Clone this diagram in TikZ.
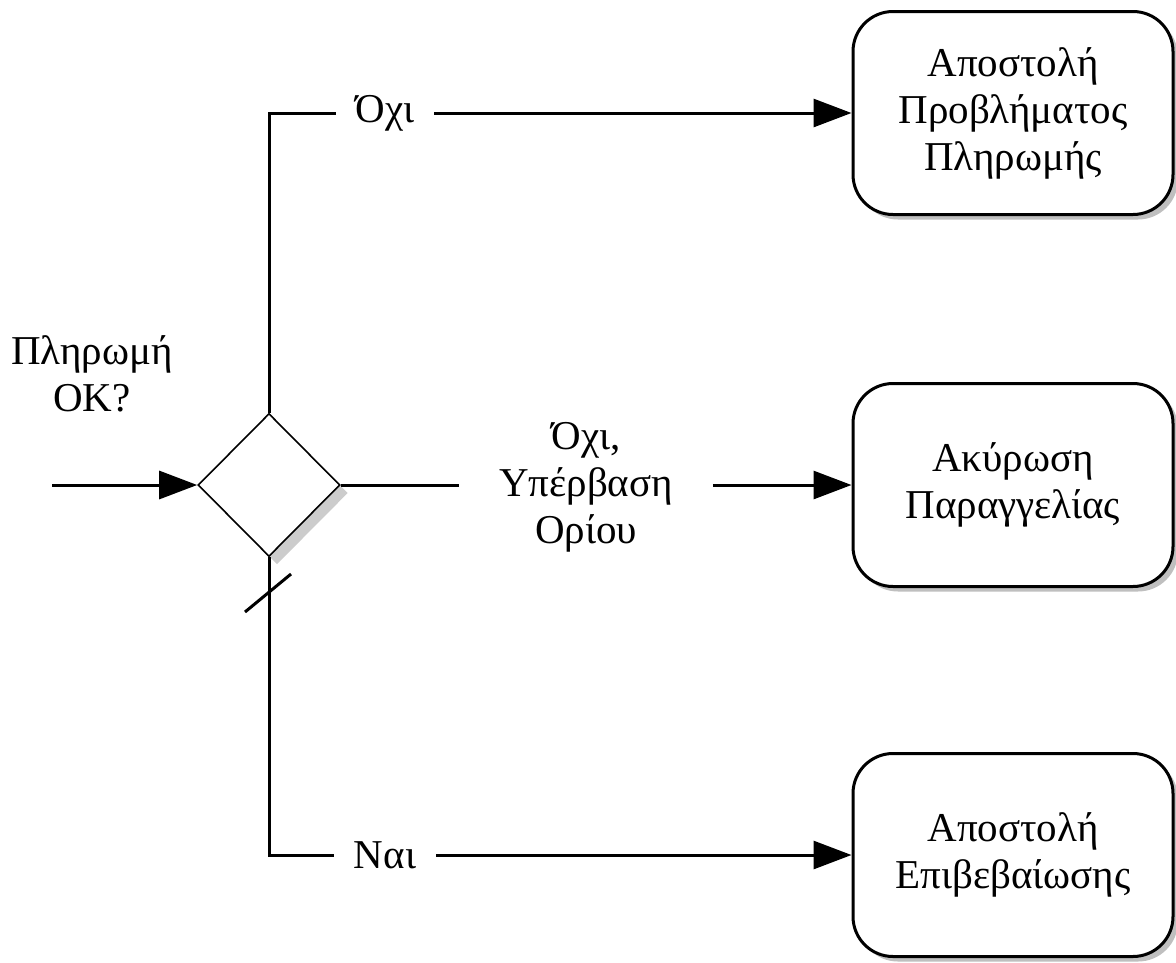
\documentclass[tikz,border=0pt]{standalone}
\usepackage{fontspec}
\setmainfont{Liberation Serif}
\usetikzlibrary{
    arrows.meta,
    positioning,
    shadows,
    shapes.geometric
}
\tikzset{
    every picture/.style = {
        > = {Triangle[length = 38pt, width = 28pt]},
        line width = 3pt,
        x = 1pt,
        y = -1pt
    },
    every node/.style = {
        align = center,
        font = \fontsize{41}{47}\selectfont
    },
    decision/.style = {
        diamond,
        draw,
        fill = white,
        line width = 1.6pt,
        inner sep = 0pt,
        minimum width = 142pt,
        minimum height = 143pt,
        drop shadow = {shadow xshift = 8pt, shadow yshift = -8pt,
                       fill = black!20, opacity = 1}
    },
    action/.style = {
        rectangle,
        draw,
        fill = white,
        rounded corners = 40pt,
        minimum width = 320pt,
        minimum height = 203pt,
        drop shadow = {shadow xshift = 5pt, shadow yshift = -5pt,
                       fill = black!25, opacity = 1}
    },
    choice/.style = {
        inner xsep = 20pt,
        inner ysep = 0pt,
        outer sep = 0pt
    }
}

\begin{document}
\begin{tikzpicture}
    \useasboundingbox (0, 0) rectangle (1176, 962);
    % decision
    \coordinate (in) at (52, 485);
    \node (okq) at (92, 374) {Πληρωμή\\ΟΚ?};
    \node[decision] (dec) at (269, 485) {};
    % outcomes
    \node[action] (cancel) at (1013, 113) {Αποστολή\\Προβλήματος\\Πληρωμής};
    \node[action] (abort) at (1013, 485) {Ακύρωση\\Παραγγελίας};
    \node[action] (confirm) at (1013, 855) {Αποστολή\\Επιβεβαίωσης};
    % branch labels
    \node[choice] (no) at (385, 113) {Όχι};
    \node[choice, inner xsep = 40pt] (over) at (586, 487) {Όχι,\\Υπέρβαση\\Ορίου};
    \node[choice] (yes) at (385, 855) {Ναι};
    \coordinate (tick) at (268, 593);
    % connectors
    \draw[->] (in) -- (dec.west);
    \draw (dec.north) |- (no.west);
    \draw[->] (no.east) -- (cancel.west);
    \draw (dec.east) -- (dec.east -| over.west);
    \draw[->] (dec.east -| over.east) -- (abort.west);
    \draw (dec.south) |- (yes.west);
    \draw[->] (yes.east) -- (confirm.west);
    \draw ([shift = {(-23, 19)}]tick) -- ([shift = {(23, -19)}]tick);
\end{tikzpicture}
\end{document}
